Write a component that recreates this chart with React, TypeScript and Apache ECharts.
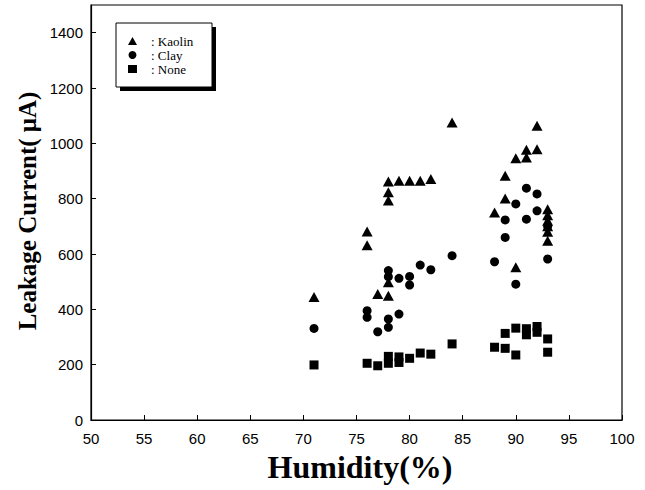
import React, { useEffect, useRef } from "react";
import * as echarts from "echarts";

const xTicks = [50, 55, 60, 65, 70, 75, 80, 85, 90, 95, 100];
const yTicks = [0, 200, 400, 600, 800, 1000, 1200, 1400];

const kaolinHumidity = [71, 76, 76, 77, 78, 78, 78, 78, 78, 79, 80, 81, 82, 84, 88, 89, 89, 90, 90, 91, 91, 92, 92, 93, 93, 93, 93, 93, 93];
const kaolinCurrent = [445, 681, 632, 455, 449, 498, 793, 823, 862, 865, 865, 865, 871, 1075, 750, 883, 801, 946, 552, 977, 949, 1064, 979, 762, 740, 720, 700, 680, 648];

const clayHumidity = [71, 76, 76, 77, 78, 78, 78, 78, 79, 79, 80, 80, 81, 82, 84, 88, 89, 89, 90, 90, 91, 91, 92, 92, 93, 93];
const clayCurrent = [331, 395, 371, 319, 365, 335, 540, 518, 383, 512, 519, 488, 560, 543, 594, 572, 723, 660, 781, 491, 838, 726, 817, 756, 700, 582];

const noneHumidity = [71, 76, 77, 78, 78, 79, 79, 80, 81, 82, 84, 88, 89, 89, 90, 90, 91, 91, 92, 92, 93, 93];
const noneCurrent = [199, 205, 196, 230, 205, 228, 208, 223, 242, 238, 275, 263, 313, 259, 332, 235, 330, 308, 338, 317, 293, 245];

const zip = (xs: number[], ys: number[]) => xs.map((x, i) => [x, ys[i]]);

export default function App() {
  const ref = useRef<HTMLDivElement>(null);
  useEffect(() => {
    if (!ref.current) return;
    const chart = echarts.init(ref.current, null, { renderer: "svg" });
    const sans = "Liberation Sans";
    const serif = "Liberation Serif";
    chart.setOption({
      animation: false,
      backgroundColor: "#fff",
      grid: {
        left: 91,
        right: 23,
        top: 5,
        bottom: 70,
        show: true,
        borderColor: "#000",
        borderWidth: 1.2,
      },
      legend: {
        orient: "vertical",
        left: 116,
        top: 23,
        itemWidth: 9,
        itemHeight: 8,
        itemGap: 0,
        padding: [11, 0, 0, 12],
        selectedMode: false,
        formatter: (n: string) => ": " + n,
        textStyle: { fontFamily: serif, fontSize: 13, lineHeight: 14, color: "#000", padding: [0, 0, 0, 9] },
        data: [
          { name: "Kaolin", icon: "triangle" },
          { name: "Clay", icon: "circle" },
          { name: "None", icon: "rect" },
        ],
        z: 10,
      },
      xAxis: {
        type: "value",
        min: 50,
        max: 100,
        interval: 5,
        axisLine: { lineStyle: { color: "#000", width: 1.2 } },
        axisTick: { inside: true, length: 5, lineStyle: { color: "#000" } },
        splitLine: { show: false },
        axisLabel: {
          fontFamily: sans,
          fontSize: 15,
          color: "#000",
          margin: 11,
          formatter: (v: number) => (xTicks.includes(v) ? String(v) : ""),
        },
      },
      yAxis: {
        type: "value",
        min: 0,
        max: 1500,
        interval: 200,
        axisLine: { lineStyle: { color: "#000", width: 1.2 } },
        axisTick: { inside: true, length: 5, lineStyle: { color: "#000" } },
        splitLine: { show: false },
        axisLabel: {
          fontFamily: sans,
          fontSize: 15,
          color: "#000",
          margin: 8,
          showMaxLabel: false,
          formatter: (v: number) => (yTicks.includes(v) ? String(v) : ""),
        },
      },
      graphic: [
        {
          type: "rect",
          z: 5,
          shape: { x: 120, y: 27, width: 96, height: 64 },
          style: { fill: "#000" },
        },
        {
          type: "rect",
          z: 6,
          shape: { x: 116, y: 23, width: 96, height: 64 },
          style: { fill: "#fff", stroke: "#000", lineWidth: 1 },
        },
        {
          type: "text",
          x: 27,
          y: 211,
          rotation: Math.PI / 2,
          style: {
            text: "Leakage Current( μA)",
            fontFamily: serif,
            fontWeight: "bold",
            fontSize: 25,
            fill: "#000",
            textAlign: "center",
            textVerticalAlign: "middle",
          },
        },
        {
          type: "text",
          x: 360,
          y: 467,
          style: {
            text: "Humidity(%)",
            fontFamily: serif,
            fontWeight: "bold",
            fontSize: 32,
            fill: "#000",
            textAlign: "center",
            textVerticalAlign: "middle",
          },
        },
      ],
      series: [
        {
          name: "Kaolin",
          type: "scatter",
          symbol: "triangle",
          symbolSize: [11, 10],
          itemStyle: { color: "#000", opacity: 1 },
          data: zip(kaolinHumidity, kaolinCurrent),
        },
        {
          name: "Clay",
          type: "scatter",
          symbol: "circle",
          symbolSize: 9,
          itemStyle: { color: "#000", opacity: 1 },
          data: zip(clayHumidity, clayCurrent),
        },
        {
          name: "None",
          type: "scatter",
          symbol: "rect",
          symbolSize: 9,
          itemStyle: { color: "#000", opacity: 1 },
          data: zip(noneHumidity, noneCurrent),
        },
      ],
    });
    return () => chart.dispose();
  }, []);
  return <div ref={ref} style={{ position: "absolute", left: 0, top: 0, width: 645, height: 490 }} />;
}
